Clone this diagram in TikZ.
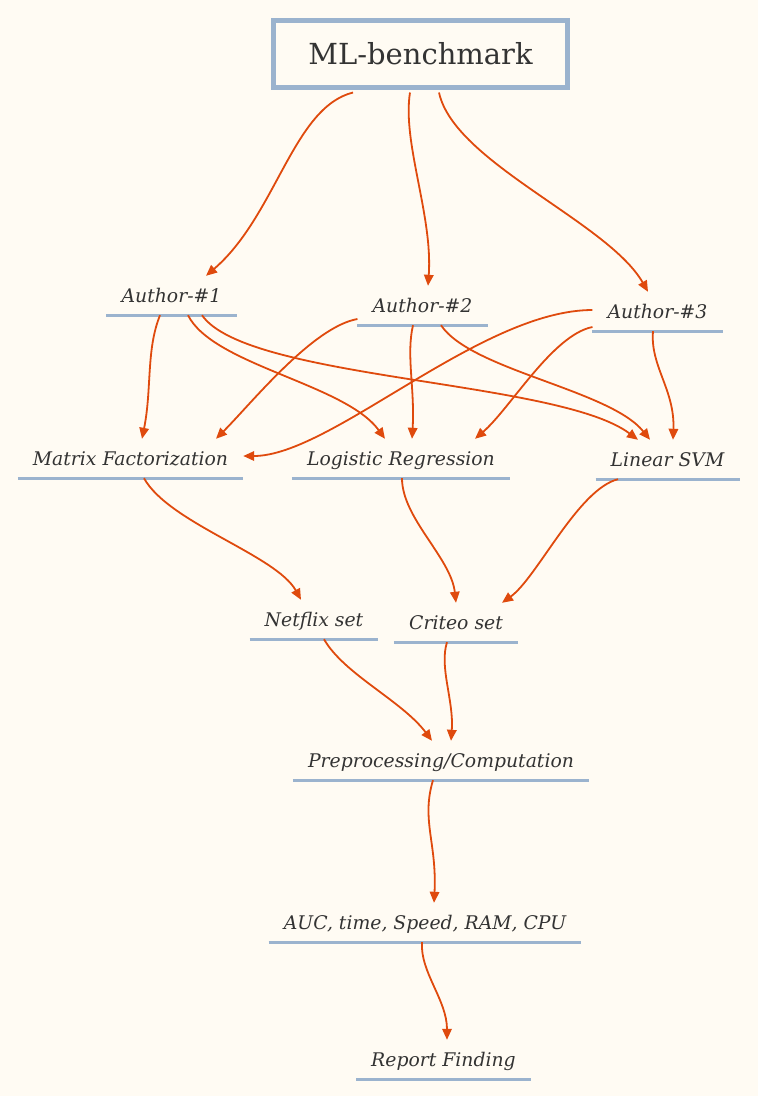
\documentclass[tikz,border=0pt]{standalone}
\usepackage{fontspec}
\setmainfont{DejaVu Serif}
\usetikzlibrary{arrows.meta}

\definecolor{bgcream}{HTML}{FFFBF3}
\definecolor{boxblue}{HTML}{9BB3CE}
\definecolor{edgeorange}{HTML}{DF4A0D}
\definecolor{textgray}{HTML}{333333}

\begin{document}
\begin{tikzpicture}[x=1pt,y=-1pt,
  root/.style={draw=boxblue,line width=5pt,minimum width=294pt,minimum height=67pt,text=textgray,font=\fontsize{29}{32}\selectfont},
  item/.style={text=textgray,font=\fontsize{18.8}{22}\selectfont\itshape,inner xsep=15pt,inner ysep=0pt,text height=18pt,text depth=4pt,minimum height=39pt},
  uline/.style={draw=boxblue,line width=3pt},
  edge/.style={draw=edgeorange,line width=1.8pt,-{Triangle[length=11pt,width=9.5pt]}}]

\fill [bgcream] (0,0) rectangle (758,1096);

\node [root] at (420.5,54) (ml) {ML-benchmark};

\node [item] at (171.5,295.5) (a1) {Author-\#1};
\node [item] at (422.5,305.5) (a2) {Author-\#2};
\node [item] at (657.5,311.5) (a3) {Author-\#3};

\node [item] at (130.5,458.5) (mf) {Matrix Factorization};
\node [item] at (401,458.5) (lr) {Logistic Regression};
\node [item] at (667.5,459.5) (svm) {Linear SVM};

\node [item] at (314,619.5) (nf) {Netflix set};
\node [item] at (456,622.5) (cr) {Criteo set};

\node [item] at (441,760.5) (pc) {Preprocessing/Computation};
\node [item] at (425,922.5) (met) {AUC, time, Speed, RAM, CPU};
\node [item] at (443.5,1059.5) (rep) {Report Finding};

% underlines
\foreach \n in {a1,a2,a3,mf,lr,svm,nf,cr,pc,met,rep}
  \draw [uline] (\n.south west) -- (\n.south east);

% benchmark to authors
\draw [edge] ([xshift=-67.5pt,yshift=-2.5pt]ml.south) .. controls +(-60,15) and +(70,-60) .. ([xshift=34.5pt]a1.north);
\draw [edge] ([xshift=-10.5pt,yshift=-2.5pt]ml.south) .. controls +(-8,50) and +(5,-70) .. ([xshift=5.5pt]a2.north);
\draw [edge] ([xshift=18.5pt,yshift=-2.5pt]ml.south) .. controls +(15,70) and +(-40,-70) .. ([xshift=-9.5pt]a3.north);

% authors to models
\draw [edge] ([xshift=-11.5pt]a1.south) .. controls +(-14,35) and +(10,-50) .. ([xshift=11.5pt]mf.north);
\draw [edge] ([xshift=16.5pt]a1.south) .. controls +(25,50) and +(-40,-55) .. ([xshift=-16pt]lr.north);
\draw [edge] ([xshift=30.5pt]a1.south) .. controls +(45,65) and +(-80,-60) .. ([xshift=-29.5pt]svm.north);
\draw [edge] ([yshift=-13.5pt]a2.west) .. controls +(-45,8) and +(35,-35) .. ([xshift=85.5pt]mf.north);
\draw [edge] ([xshift=-9.5pt]a2.south) .. controls +(-7,30) and +(3,-50) .. ([xshift=11pt]lr.north);
\draw [edge] ([xshift=18.5pt]a2.south) .. controls +(30,45) and +(-40,-50) .. ([xshift=-17.5pt]svm.north);
\draw [edge] ([yshift=1.5pt]a3.west) .. controls +(-112,0) and +(88,0) .. ([yshift=2.5pt]mf.east);
\draw [edge] ([yshift=-15.5pt]a3.west) .. controls +(-40,8) and +(35,-30) .. ([xshift=74pt]lr.north);
\draw [edge] ([xshift=-4.5pt]a3.south) .. controls +(-3,35) and +(2,-50) .. ([xshift=5.5pt]svm.north);

% models to data sets
\draw [edge] ([xshift=13.5pt]mf.south) .. controls +(25,45) and +(-25,-45) .. ([xshift=-13pt]nf.north);
\draw [edge] ([xshift=1pt]lr.south) .. controls +(0,40) and +(-5,-45) .. (cr.north);
\draw [edge] ([xshift=-49.5pt]svm.south) .. controls +(-40,10) and +(35,-25) .. ([xshift=46pt]cr.north);

% data sets to results
\draw [edge] ([xshift=10pt]nf.south) .. controls +(20,35) and +(-30,-40) .. ([xshift=-9pt]pc.north);
\draw [edge] ([xshift=-9pt]cr.south) .. controls +(-8,25) and +(3,-40) .. ([xshift=10pt]pc.north);
\draw [edge] ([xshift=-8pt]pc.south) .. controls +(-12,40) and +(3,-60) .. ([xshift=9pt]met.north);
\draw [edge] ([xshift=-3pt]met.south) .. controls +(-2,30) and +(0,-40) .. ([xshift=3.5pt]rep.north);

\end{tikzpicture}
\end{document}
